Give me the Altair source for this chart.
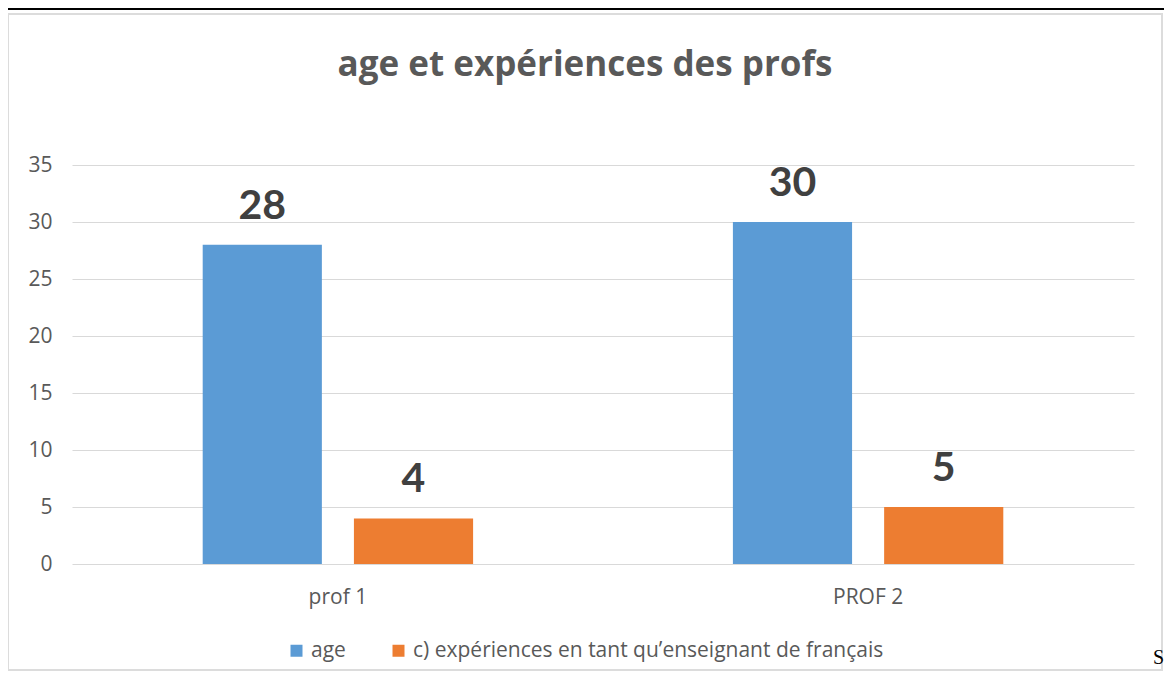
import altair as alt
import pandas as pd

categories = ["prof 1", "PROF 2"]
series = ["age", "c) expériences en tant qu’enseignant de français"]
age_values = [28, 30]
experience_values = [4, 5]
y_ticks = [0, 5, 10, 15, 20, 25, 30, 35]
colors = ["#5B9BD5", "#ED7D31"]
title_text = "age et expériences des profs"
stray_text = "S"

rows = []
for i, c in enumerate(categories):
    rows.append({"prof": c, "serie": series[0], "value": age_values[i]})
    rows.append({"prof": c, "serie": series[1], "value": experience_values[i]})
df = pd.DataFrame(rows)

FONT = "Open Sans"
LABEL_FONT = "Lato"
W, H = 1062, 399

x_enc = alt.X("prof:N", sort=categories,
              scale=alt.Scale(paddingInner=0.49, paddingOuter=0.2465),
              axis=alt.Axis(title=None, labelAngle=0, domain=False, ticks=False,
                            labelFontSize=21, labelColor="#595959", labelPadding=22,
                            labelFont=FONT))
xo_enc = alt.XOffset("serie:N", sort=series,
                     scale=alt.Scale(paddingInner=0.212, paddingOuter=0))
y_enc = alt.Y("value:Q", scale=alt.Scale(domain=[0, 35], nice=False),
              axis=alt.Axis(values=y_ticks, title=None, domain=False, ticks=False,
                            gridColor="#D9D9D9", labelPadding=20, labelFontSize=21,
                            labelColor="#595959", labelFont=FONT))

frame = alt.Chart(pd.DataFrame({"a": [0]})).mark_rect(
    fillOpacity=0, stroke="#DCDCDC", strokeWidth=2
).encode(x=alt.value(-64), x2=alt.value(1090), y=alt.value(-151), y2=alt.value(505))

topline = alt.Chart(pd.DataFrame({"a": [0]})).mark_rule(
    color="black", strokeWidth=2
).encode(x=alt.value(-72), x2=alt.value(1100), y=alt.value(-156))

bars = alt.Chart(df).mark_bar().encode(
    x=x_enc, xOffset=xo_enc, y=y_enc,
    color=alt.Color("serie:N", sort=series,
                    scale=alt.Scale(domain=series, range=colors),
                    legend=alt.Legend(orient="none", legendX=214, legendY=475,
                                      direction="horizontal", title=None,
                                      symbolType="square", symbolSize=144,
                                      symbolStrokeWidth=0, labelFontSize=21,
                                      labelColor="#595959", labelLimit=0,
                                      columnPadding=42, labelOffset=4,
                                      labelFont=FONT))
)

labels = alt.Chart(df).mark_text(
    dy=-26, baseline="alphabetic", fontSize=41, fontWeight="bold",
    color="#404040", font=LABEL_FONT
).encode(x=x_enc, xOffset=xo_enc, y=y_enc, text="value:Q")

title = alt.Chart(pd.DataFrame({"t": [title_text]})).mark_text(
    fontSize=35, fontWeight="bold", color="#595959", font=FONT,
    baseline="middle", align="center"
).encode(x=alt.value(513), y=alt.value(-100), text="t:N")

stray = alt.Chart(pd.DataFrame({"t": [stray_text]})).mark_text(
    fontSize=20, color="black", font="Liberation Serif", align="right",
    baseline="middle"
).encode(x=alt.value(1092), y=alt.value(493), text="t:N")

chart = alt.layer(frame, topline, bars, labels, title, stray).properties(
    width=W, height=H,
    autosize=alt.AutoSizeParams(type="none"),
    padding={"left": 64, "top": 157, "right": 30, "bottom": 108},
    background="white",
).configure_view(stroke=None)

chart.save("out.html", embed_options={"renderer": "svg", "actions": False})
